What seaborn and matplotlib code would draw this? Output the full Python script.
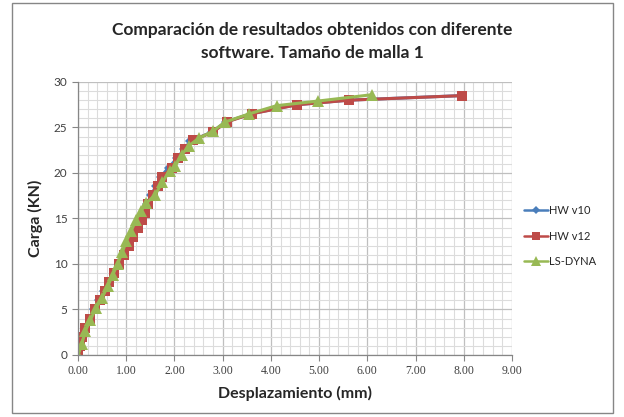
import numpy as np
import pandas as pd
import matplotlib.pyplot as plt
import seaborn as sns
from matplotlib.ticker import MultipleLocator, FormatStrFormatter

sns.set_style('white')
plt.rcParams['font.family'] = ['Lato', 'DejaVu Sans']

# HW v10 (mostly hidden behind HW v12)
x_v10 = [0, 0.04, 0.07, 0.14, 0.24, 0.34, 0.44, 0.54, 0.64, 0.74, 0.84, 0.94, 1.03, 1.13,
         1.23, 1.3, 1.36, 1.43, 1.52, 1.62, 1.72, 1.88, 2.05, 2.2, 2.33, 2.78, 3.06,
         3.58, 4.53, 5.6, 7.94]
y_v10 = [0, 1.0, 2.0, 3.0, 4.0, 5.0, 6.0, 7.0, 8.0, 9.0, 10.0, 11.0, 12.0, 13.0,
         14.0, 14.8, 15.6, 16.6, 17.6, 18.6, 19.6, 20.6, 21.6, 22.6, 23.5, 24.5, 25.6,
         26.5, 27.5, 28.0, 28.5]

# HW v12
x_v12 = [0, 0.05, 0.08, 0.15, 0.25, 0.35, 0.45, 0.55, 0.65, 0.75, 0.85, 0.95, 1.05, 1.15,
         1.25, 1.32, 1.38, 1.45, 1.55, 1.65, 1.75, 1.95, 2.08, 2.22, 2.38, 2.8, 3.08,
         3.6, 4.55, 5.62, 7.96]
y_v12 = [0, 1.0, 2.0, 3.0, 4.0, 5.0, 6.0, 7.0, 8.0, 9.0, 10.0, 11.0, 12.0, 13.0,
         14.0, 14.8, 15.6, 16.6, 17.6, 18.6, 19.6, 20.6, 21.6, 22.6, 23.6, 24.5, 25.6,
         26.5, 27.5, 28.0, 28.5]

# LS-DYNA
x_ls = [0, 0.08, 0.15, 0.25, 0.38, 0.5, 0.62, 0.72, 0.82, 0.92, 1.0, 1.1, 1.2, 1.3,
        1.42, 1.6, 1.75, 1.9, 2.02, 2.15, 2.3, 2.5, 2.8, 3.05, 3.55, 4.12, 4.97, 6.09]
y_ls = [0, 1.2, 2.6, 3.8, 5.2, 6.3, 7.6, 8.8, 10.0, 11.3, 12.5, 13.6, 14.8, 15.8,
        16.7, 17.6, 19.0, 20.2, 20.8, 22.0, 23.0, 23.8, 24.6, 25.6, 26.5, 27.4, 27.9, 28.6]

series = [
    ('HW v10', x_v10, y_v10, '#4a7ebb', 'D', 5),
    ('HW v12', x_v12, y_v12, '#be4b48', 's', 7.5),
    ('LS-DYNA', x_ls, y_ls, '#98b954', '^', 8.5),
]

fig = plt.figure(figsize=(6.24, 4.17), dpi=100)
ax = fig.add_axes([0.125, 0.1487, 0.6955, 0.6547])

for name, xs, ys, col, mk, ms in series:
    d = pd.DataFrame({'x': xs, 'y': ys})
    sns.lineplot(data=d, x='x', y='y', ax=ax, sort=False, color=col, lw=2.2,
                 marker=mk, markersize=ms, markeredgewidth=0, label=name)

ax.set_xlim(0, 9)
ax.set_ylim(0, 30)
ax.xaxis.set_major_locator(MultipleLocator(1))
ax.xaxis.set_minor_locator(MultipleLocator(0.2))
ax.yaxis.set_major_locator(MultipleLocator(5))
ax.yaxis.set_minor_locator(MultipleLocator(1))
ax.xaxis.set_major_formatter(FormatStrFormatter('%.2f'))
ax.grid(which='major', color='#bfbfbf', lw=0.9)
ax.grid(which='minor', color='#dcdcdc', lw=0.8)
ax.set_axisbelow(True)
for s in ['top', 'right']:
    ax.spines[s].set_visible(False)
for s in ['left', 'bottom']:
    ax.spines[s].set_color('#868686')
    ax.spines[s].set_linewidth(0.9)
ax.tick_params(axis='both', which='major', length=4, color='#868686', labelsize=8.5,
               labelcolor='#404040', direction='out', bottom=True, left=True)
for lab in ax.get_xticklabels():
    lab.set_family('Liberation Serif')

ax.set_xlabel('Desplazamiento (mm)', fontsize=11.5, fontweight='bold', labelpad=6)
ax.set_ylabel('Carga (KN)', fontsize=11.5, fontweight='bold', labelpad=8)

fig.suptitle('Comparación de resultados obtenidos con diferente\nsoftware. Tamaño de malla 1',
             x=0.5, y=0.948, fontsize=12.5, fontweight='bold', linespacing=1.6)

leg = ax.legend(loc='center left', bbox_to_anchor=(0.832, 0.434), bbox_transform=fig.transFigure,
                frameon=False, fontsize=8, handlelength=2.2, handletextpad=0.1,
                labelspacing=1.3, borderaxespad=0, markerscale=0.8)
for h in leg.get_lines():
    h.set_linewidth(1.8)

# outer chart border
fig.patches.append(plt.Rectangle((0.02, 0.01), 0.963, 0.982, transform=fig.transFigure,
                                 fill=False, edgecolor='#868686', lw=1))

fig.savefig('out.png', dpi=100)
